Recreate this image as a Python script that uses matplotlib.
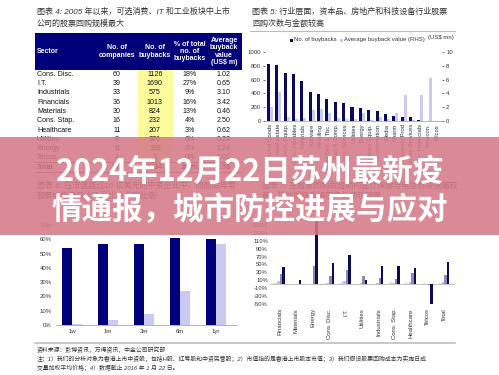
import numpy as np
import matplotlib
matplotlib.use('Agg')
import matplotlib.pyplot as plt
from matplotlib.patches import Rectangle

plt.rcParams['font.family'] = ['Liberation Sans', 'Noto Sans CJK SC', 'DejaVu Sans']

W, H = 499, 375

# chart 4: table
sectors = ['Cons. Disc.', 'I.T.', 'Industrials', 'Financials', 'Materials',
           'Cons. Stap.', 'Healthcare', 'Utilities', 'Energy', 'Telcos']
n_companies = [60, 39, 33, 36, 30, 16, 11, 8, 11, 1]
n_buybacks = [1126, 1690, 575, 1013, 824, 232, 207, 376, 188, 3]
pct_buybacks = ['18%', '27%', '9%', '16%', '13%', '4%', '3%', '6%', '3%', '0%']
avg_value = ['1.02', '0.65', '3.10', '3.42', '0.46', '2.50', '0.62', '0.23', '1.24', '1.01']
total_row = ['Total', '245', '6234', '100%', '1.58']
table_header = ['Sector', 'No. of\ncompanies', 'No. of\nbuybacks',
                '% of total\nno. of\nbuybacks', 'Average\nbuyback\nvalue\n(US$ m)']

# chart 5: industries
industries = ['Capital Goods', 'Real Estate', 'Tech. Equip.', 'Cons. Durables', 'Materials',
              'Software', 'Retailing', 'Food Bev. & Tbc.', 'Auto & Comp.', 'Cons. Services',
              'Utilities', 'Energy', 'Healthcare Equip.', 'Transportation', 'Media', 'Pharm',
              'Household Prod', 'Telecom Services', 'Div. Financials', 'Semicon.', 'Telcos']
ind_buybacks = [820, 810, 700, 680, 575, 425, 390, 320, 275, 255, 205, 190, 160, 140,
                100, 75, 60, 55, 15, 0, 0]
ind_avg_value = [2.1, 4.2, 0.6, 0.3, 0.5, 1.6, 1.7, 1.1, 0.5, 0.3, 0.3, 1.2, 0.2, 0.6,
                 0.3, 1.1, 3.8, 0.1, 3.8, 6.3, 0.0]

# chart 6: horizons
horizons = ['1w', '1m', '3m', '6m', '1yr']
hit_buyback = [54, 56.5, 57, 61, 60]
hit_other = [1, 3.5, 7.5, 24, 56.5]

# chart 7: sector returns after buyback (%)
ret_sectors = ['Financials', 'Materials', 'Energy', 'Cons. Disc.', 'I.T.', 'Utilities',
               'Industrials', 'Cons. Stap.', 'Healthcare', 'Telcos', 'Total']
ret_1w = [2, 0, 0, 1, 2, 0, 0, 2, 6, 1, 1]
ret_1m = [4, 1, -1, 2, 5, 1, 1, 5, 3, 3, 3]
ret_3m = [7, 1, 1, 4, 9, 3, 3, 4, 5, 1, 6]
ret_6m = [25, 1, 46, 20, 36, 20, 17, 12, 28, -3, 24]
ret_1yr = [44, 10, 160, 53, 73, 10, 45, 45, 40, -50, 56]

NAVY = '#00007a'
DARK = '#0b0b5c'
LIGHT = '#c9c9f2'
TXT = '#333333'


def box(x0, y0, x1, y1):
    return [x0 / W, 1 - y1 / H, (x1 - x0) / W, (y1 - y0) / H]


fig = plt.figure(figsize=(W / 100, H / 100), dpi=100, facecolor='white')

# background layer in pixel coordinates
bg = fig.add_axes([0, 0, 1, 1])
bg.set_xlim(0, W)
bg.set_ylim(H, 0)
bg.axis('off')

# titles
bg.text(37, 12, '图表 4: 2005 年以来，可选消费、IT 和工业板块中上市', fontsize=5.8,
        color=TXT, va='center', style='italic')
bg.text(37, 24, '公司的股票回购规模最大', fontsize=5.8, color=TXT, va='center', style='italic')
bg.text(252, 12, '图表 5: 行业层面，资本品、房地产和科技设备行业股票', fontsize=5.8,
        color=TXT, va='center', style='italic')
bg.text(252, 24, '回购次数与金额较高', fontsize=5.8, color=TXT, va='center', style='italic')
bg.plot([250, 455], [31, 31], color='#bbbbbb', lw=0.8)
bg.text(37, 186, '图表 6: 在市值超过10 亿美元的中资企业中，回购后异常', fontsize=5.8,
        color=TXT, va='center', style='italic')
bg.text(37, 196, '股票价格表现优于可比企业的比例', fontsize=5.8, color=TXT, va='center', style='italic')
bg.text(262, 186, '图表 7: 在股票回购后短期内医疗保健与电信板块涨幅较', fontsize=5.8,
        color=TXT, va='center', style='italic')
bg.text(262, 196, '高，其他板块涨幅在中长期较明显', fontsize=5.8, color=TXT, va='center', style='italic')

# table
bg.add_patch(Rectangle((35, 33), 207, 37, color=NAVY, lw=0))
col_x = [37, 117, 155, 190, 224]
for i, h in enumerate(table_header):
    bg.text(col_x[i], 51.5, h, color='white', fontsize=5, weight='bold',
            ha='left' if i == 0 else 'center', va='center', linespacing=1.05)
row_y = 74.5
dy = 9.25
bg.add_patch(Rectangle((138, 70), 35, dy * len(sectors) + 2, color='#fbfb9c', lw=0))
for r, s in enumerate(sectors):
    y = row_y + r * dy
    vals = [s, str(n_companies[r]), str(n_buybacks[r]), pct_buybacks[r], avg_value[r]]
    for i, v in enumerate(vals):
        bg.text(col_x[i], y, v, fontsize=5.1, color='#111111',
                ha='left' if i == 0 else 'center', va='center')
ty = row_y + len(sectors) * dy
bg.plot([35, 242], [ty - 4.8, ty - 4.8], color='#555555', lw=0.6)
bg.plot([35, 242], [ty + 4.6, ty + 4.6], color='#555555', lw=0.6)
for i, v in enumerate(total_row):
    bg.text(col_x[i], ty + 0.5, v, fontsize=5.1, color='#111111', weight='bold',
            ha='left' if i == 0 else 'center', va='center')

# legend for chart 5
bg.add_patch(Rectangle((290, 38.5), 3, 3, color=DARK, lw=0))
bg.text(294, 40, 'No. of buybacks', fontsize=4.3, color=TXT, va='center')
bg.add_patch(Rectangle((340, 38.5), 3, 3, color=LIGHT, lw=0))
bg.text(344, 40, 'Average buyback value (RHS)', fontsize=4.3, color=TXT, va='center')
bg.text(454, 38, '(US$ mn)', fontsize=4.3, color=TXT, va='center', ha='right')

# footer
bg.plot([35, 455], [342.5, 342.5], color='#bdbdbd', lw=1.2)
bg.text(37, 350, '资料来源：彭博资讯，万得资讯，中金公司研究部', fontsize=4.2,
        color=TXT, va='center', style='italic')
bg.text(37, 359, '注：1）我们的分析对象为香港上市中资股，包括H股、红筹股和中资民营股；'
        '2）市值指的是香港上市股本市值；3）我们假设股票回购成本为实施日成',
        fontsize=4.2, color=TXT, va='center', style='italic')
bg.text(37, 368, '交量加权平均价格；4）数据截止 2016 年 1 月 22 日。', fontsize=4.2,
        color=TXT, va='center', style='italic')

# chart 5
ax5 = fig.add_axes(box(265, 52, 442, 121))
x5 = np.arange(len(industries))
ax5.bar(x5 - 0.18, ind_buybacks, width=0.36, color=DARK, zorder=2)
ax5.set_xlim(-0.6, len(industries) - 0.4)
ax5.set_ylim(0, 1000)
ax5.set_yticks(range(0, 1001, 200))
ax5.set_xticks(x5)
ax5.set_xticklabels(industries, rotation=90, fontsize=4.2, color=TXT)
ax5.tick_params(axis='x', length=0, pad=2)
ax5.tick_params(axis='y', labelsize=4.3, length=1.5, width=0.4, pad=1.5, labelcolor=TXT)
for sp in ['top', 'right', 'left']:
    ax5.spines[sp].set_visible(False)
ax5.spines['bottom'].set_color('#999999')
ax5.spines['bottom'].set_linewidth(0.5)
ax5.patch.set_visible(False)
ax5b = ax5.twinx()
ax5b.bar(x5 + 0.18, ind_avg_value, width=0.36, color=LIGHT, zorder=2)
ax5b.set_ylim(0, 10)
ax5b.set_yticks(range(0, 11, 2))
ax5b.tick_params(axis='y', labelsize=4.3, length=1.5, width=0.4, pad=1.5, labelcolor=TXT)
for sp in ['top', 'right', 'left', 'bottom']:
    ax5b.spines[sp].set_visible(False)

# chart 6
ax6 = fig.add_axes(box(56, 225, 237, 325))
x6 = np.arange(len(horizons))
ax6.bar(x6 - 0.14, hit_buyback, width=0.28, color=NAVY, zorder=2)
ax6.bar(x6 + 0.14, hit_other, width=0.28, color=LIGHT, zorder=2)
ax6.set_xlim(-0.45, len(horizons) - 0.42)
ax6.set_ylim(0, 70)
ax6.set_yticks(range(0, 71, 10))
ax6.set_yticklabels([f'{v}%' for v in range(0, 71, 10)])
ax6.set_xticks(x6)
ax6.set_xticklabels(horizons)
ax6.tick_params(labelsize=4.3, labelcolor=TXT, length=0, pad=3)
for sp in ['top', 'right', 'left']:
    ax6.spines[sp].set_visible(False)
ax6.spines['bottom'].set_color('#999999')
ax6.spines['bottom'].set_linewidth(0.5)

# chart 7
ax7 = fig.add_axes(box(270, 217, 455, 304))
x7 = np.arange(len(ret_sectors))
series7 = [ret_1w, ret_1m, ret_3m, ret_6m, ret_1yr]
colors7 = ['#ececfb', '#d8d8f3', '#c2c2e8', '#8a8ab5', DARK]
for k, (vals, c) in enumerate(zip(series7, colors7)):
    ax7.bar(x7 + (k - 2.5) * 0.15, vals, width=0.15, color=c, zorder=2)
ax7.set_xlim(-0.6, len(ret_sectors) - 0.35)
ax7.set_ylim(-50, 170)
ax7.set_yticks(range(-50, 151, 20))
ax7.set_yticklabels([f'{v}%' for v in range(-50, 151, 20)])
ax7.set_xticks(x7)
ax7.set_xticklabels(ret_sectors, rotation=90, fontsize=4.3, color=TXT)
ax7.tick_params(axis='y', labelsize=4.2, labelcolor=TXT, length=0, pad=1.5)
ax7.tick_params(axis='x', length=0, pad=3)
for sp in ['top', 'right', 'left', 'bottom']:
    ax7.spines[sp].set_visible(False)
ax7.axhline(0, color='#aaaaaa', lw=0.5, zorder=1)
ax7.patch.set_visible(False)

# overlay banner
ov = fig.add_axes([0, 0, 1, 1])
ov.set_zorder(10)
ov.set_xlim(0, W)
ov.set_ylim(H, 0)
ov.axis('off')
ov.add_patch(Rectangle((0, 137), W, 98, color='#d57a88', alpha=0.88, lw=0))
ov.text(250, 172, '2024年12月22日苏州最新疫', fontsize=22, weight='bold', color='white',
        ha='center', va='center', family=['Noto Sans CJK SC', 'DejaVu Sans'])
ov.text(250, 210, '情通报，城市防控进展与应对', fontsize=22, weight='bold', color='white',
        ha='center', va='center', family=['Noto Sans CJK SC', 'DejaVu Sans'])

fig.savefig('out.png', dpi=100, facecolor='white')
